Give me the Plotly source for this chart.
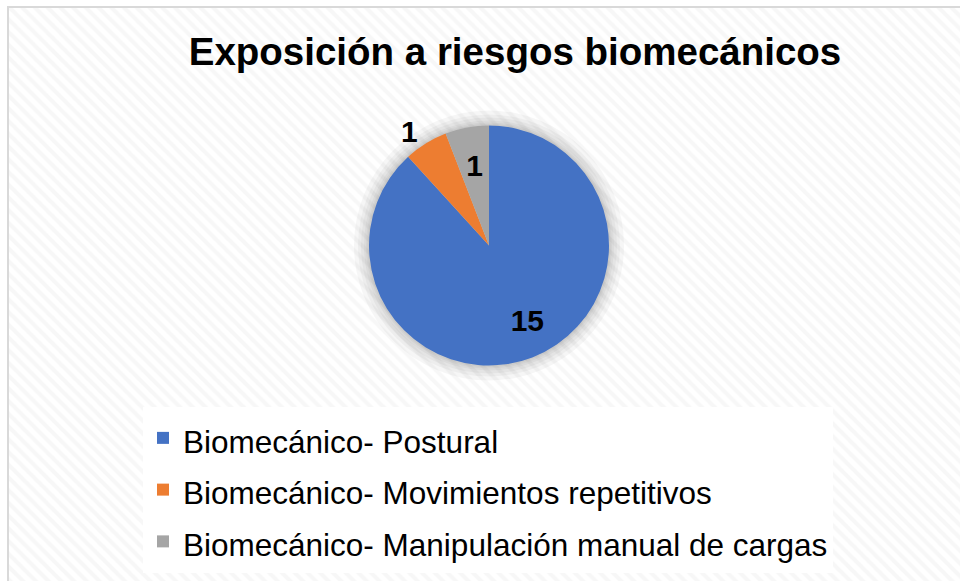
import plotly.graph_objects as go

# Data
title_text = "Exposición a riesgos biomecánicos"
categories = [
    "Biomecánico- Postural",
    "Biomecánico- Movimientos repetitivos",
    "Biomecánico- Manipulación manual de cargas",
]
values = [15, 1, 1]
colors = ["#4472C4", "#ED7D31", "#A5A5A5"]
text_positions = ["inside", "outside", "inside"]
text_templates = ["\u00a0<br>\u00a0\u00a0\u00a0\u00a0%{value}", "%{value}", "\u00a0<br>\u00a0%{value}"]

W, H = 960, 581
cx, cy, R = 489, 245.5, 120


def dom(r):
    return dict(x=[(cx - r) / W, (cx + r) / W], y=[1 - (cy + r) / H, 1 - (cy - r) / H])


legend_labels = ['<span style="font-size:31.5px">%s</span>' % c for c in categories]

fig = go.Figure()

# patterned background
fig.add_trace(go.Bar(
    x=[0], y=[1], width=[1], base=[0],
    marker=dict(color="white", line=dict(width=0),
                pattern=dict(shape="\\", fgcolor="#efefef", bgcolor="white", size=9, solidity=0.45)),
    showlegend=False, hoverinfo="skip",
))

# soft shadow around the pie
for extra in [15, 11, 8, 5, 3, 1.5]:
    fig.add_trace(go.Pie(
        values=[1], labels=[" "], domain=dom(R + extra), sort=False,
        marker=dict(colors=["rgba(0,0,0,0.035)"], line=dict(width=0)),
        textinfo="none", hoverinfo="skip", showlegend=False,
    ))

fig.add_trace(go.Pie(
    labels=legend_labels, values=values, sort=False, direction="clockwise", rotation=0,
    domain=dom(R),
    marker=dict(colors=colors, line=dict(width=0)),
    texttemplate=text_templates, textposition=text_positions,
    insidetextorientation="horizontal",
    textfont=dict(family="Liberation Sans, Arial", size=30, color="black", weight="bold"),
    hoverinfo="value",
))

fig.update_layout(
    width=W, height=H,
    margin=dict(l=0, r=0, t=0, b=0),
    paper_bgcolor="white", plot_bgcolor="white",
    xaxis=dict(domain=[9 / W, 1], range=[-0.5, 0.5], visible=False, fixedrange=True),
    yaxis=dict(domain=[0, 1 - 7 / H], range=[0, 1], visible=False, fixedrange=True),
    bargap=0,
    uniformtext=dict(mode="show", minsize=30),
    title=dict(text=title_text, x=515 / W, xanchor="center", y=1 - 52 / H, yanchor="middle",
               font=dict(family="Liberation Sans, Arial", size=38.5, color="black", weight="bold")),
    legend=dict(x=143 / W, xanchor="left", y=1 - 407 / H, yanchor="top",
                bgcolor="white", font=dict(family="Liberation Sans, Arial", size=37.5, color="black")),
    shapes=[dict(type="rect", xref="paper", yref="paper", x0=8 / W, x1=1.01, y0=-0.01, y1=1 - 7 / H,
                 line=dict(color="#d9d9d9", width=2), layer="above")],
)

fig.write_html("out.html", config={"displayModeBar": False},
               post_script="document.body.style.margin='0';")
